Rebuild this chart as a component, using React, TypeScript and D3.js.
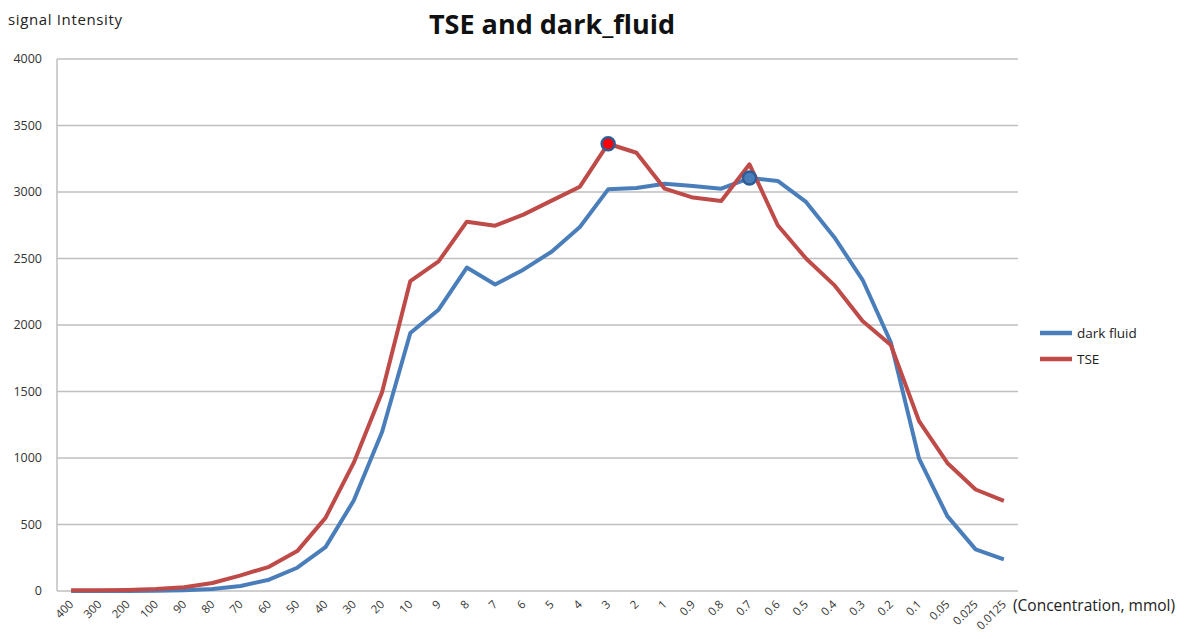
import React from "react";
import * as d3 from "d3";

const categories = ["400","300","200","100","90","80","70","60","50","40","30","20","10","9","8","7","6","5","4","3","2","1","0.9","0.8","0.7","0.6","0.5","0.4","0.3","0.2","0.1","0.05","0.025","0.0125"];
const darkFluid = [0,0,0,2,6,15,38,85,175,330,680,1195,1940,2115,2432,2304,2416,2551,2737,3020,3030,3062,3045,3025,3105,3083,2925,2660,2340,1870,995,563,313,238];
const tse = [5,5,8,15,28,60,118,182,300,550,965,1495,2330,2478,2777,2747,2830,2935,3040,3363,3295,3025,2958,2933,3208,2750,2500,2300,2030,1850,1277,963,763,677];
const yTicks = [0,500,1000,1500,2000,2500,3000,3500,4000];
const seriesNames = ["dark fluid","TSE"];
const highlight = [{ series: "TSE", category: "3" }, { series: "dark fluid", category: "0.7" }];

const W = 1191, H = 639;
const left = 57, right = 1018, top = 59, bottom = 591;
const BLUE = "#4A7EBB", RED = "#BE4B48";
const FONT = "'Open Sans', 'Liberation Sans', sans-serif";

export default function App() {
  const x = d3.scalePoint<string>().domain(categories).range([left, right]).padding(0.5);
  const y = d3.scaleLinear().domain([0, 4000]).range([bottom, top]);
  const line = d3.line<number>().x((_, i) => x(categories[i])!).y(d => y(d));
  const data: Record<string, number[]> = { "dark fluid": darkFluid, "TSE": tse };
  const colors: Record<string, string> = { "dark fluid": BLUE, "TSE": RED };
  return (
    <svg width={W} height={H} style={{ position: "absolute", left: 0, top: 0, background: "#fff" }} fontFamily={FONT}>
      <text x={8} y={25} fontSize={15} fill="#222" textLength={114}>signal Intensity</text>
      <text x={552} y={34} fontSize={27} fontWeight="bold" textAnchor="middle" fill="#111">TSE and dark_fluid</text>
      {yTicks.map(t => (
        <g key={t}>
          <line x1={left} x2={right} y1={y(t)} y2={y(t)} stroke="#BFBFBF" strokeWidth={1.5} />
          <text x={42} y={y(t) + 4} fontSize={12.5} textAnchor="end" fill="#333">{t}</text>
        </g>
      ))}
      <line x1={left} x2={left} y1={top} y2={bottom} stroke="#BFBFBF" strokeWidth={1.5} />
      {categories.map(c => (
        <text key={c} transform={`translate(${x(c)! + 3},${bottom + 14}) rotate(-45)`} fontSize={11.5} textAnchor="end" fill="#333">{c}</text>
      ))}
      <text x={1013} y={611} fontSize={15.5} fill="#222">(Concentration, mmol)</text>
      {seriesNames.map(s => (
        <path key={s} d={line(data[s])!} fill="none" stroke={colors[s]} strokeWidth={4} strokeLinejoin="round" />
      ))}
      {highlight.map(h => {
        const i = categories.indexOf(h.category);
        return (
          <circle key={h.series} cx={x(h.category)!} cy={y(data[h.series][i])} r={6.5}
            fill={h.series === "TSE" ? "#FF0000" : BLUE} stroke="#2F5C94" strokeWidth={2.5} />
        );
      })}
      {seriesNames.map((s, i) => (
        <g key={s}>
          <line x1={1040} x2={1072} y1={333 + i * 26} y2={333 + i * 26} stroke={colors[s]} strokeWidth={4.5} />
          <text x={1077} y={338 + i * 26} fontSize={13.5} fill="#222">{s}</text>
        </g>
      ))}
    </svg>
  );
}
